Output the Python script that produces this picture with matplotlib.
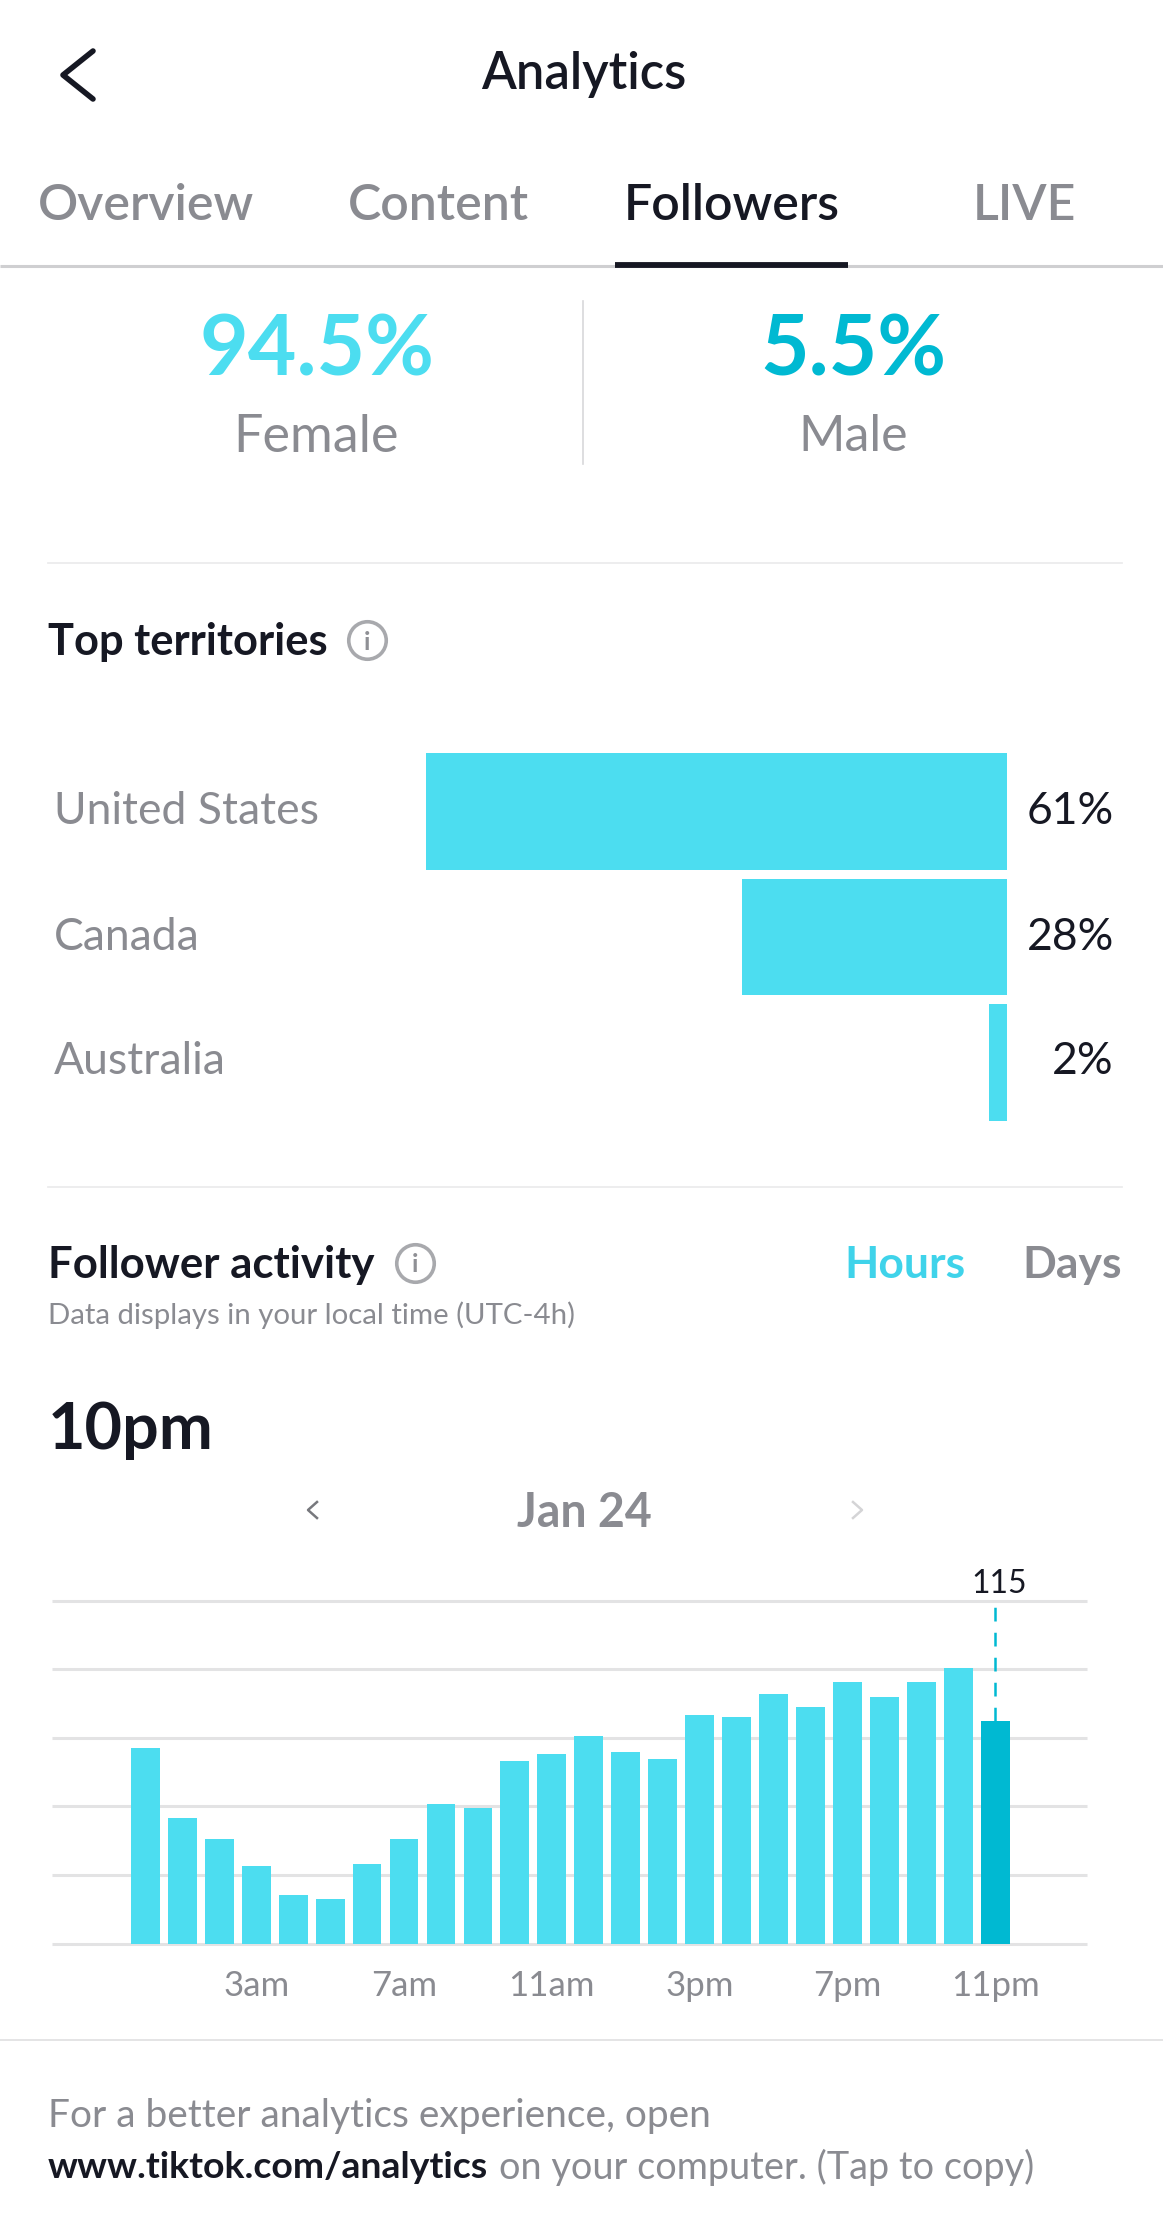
import numpy as np
import matplotlib.pyplot as plt

plt.rcParams['font.family'] = ['Lato', 'DejaVu Sans']

W, H = 1163, 2236

# 数据
gender_labels = ['Female', 'Male']
gender_values = ['94.5%', '5.5%']
territories = ['United States', 'Canada', 'Australia']
territory_pct = [61, 27.8, 1.9]
tabs = ['Overview', 'Content', 'Followers', 'LIVE']
hours = list(range(24))
activity = [101, 65, 54, 40, 25, 23, 41, 54, 72, 70, 94, 98, 107, 99, 95, 118, 117,
            129, 122, 135, 127, 135, 142, 115]
grid_values = [0, 35.4, 70.8, 106.2, 141.6, 177]
hour_ticks = [3, 7, 11, 15, 19, 23]
hour_labels = ['3am', '7am', '11am', '3pm', '7pm', '11pm']

CYAN = '#4cddf0'
TEAL = '#00b9d2'
INK = '#161823'
GREY = '#8a8b91'
LINE = '#e3e3e4'


def px_axes(left, top, right, bottom):
    return fig.add_axes([left / W, 1 - bottom / H, (right - left) / W, (bottom - top) / H])


def info_icon(x, y):
    ui.plot(x, y, 'o', ms=27, mfc='white', mec='#a8a9ad', mew=2.6)
    ui.text(x, y + 2, 'i', color='#8f9095', fontsize=18, fontweight='bold', ha='center', va='center')


fig = plt.figure(figsize=(W / 100, H / 100), dpi=100, facecolor='white')

# 界面层,用像素坐标
ui = fig.add_axes([0, 0, 1, 1])
ui.set_xlim(0, W)
ui.set_ylim(H, 0)
ui.axis('off')

ui.plot([93, 63, 93], [51, 75, 99], color=INK, lw=4, solid_capstyle='round', solid_joinstyle='round')
ui.text(584, 74, 'Analytics', color=INK, fontsize=36.5, fontweight='semibold', ha='center', va='center')

tab_x = [146, 438, 731.5, 1024]
for name, x in zip(tabs, tab_x):
    ui.text(x, 205, name, color=INK if name == 'Followers' else GREY, fontsize=36,
            fontweight='semibold', ha='center', va='center')
ui.plot([0, W], [266, 266], color='#cfcfd1', lw=2.2, solid_capstyle='butt')
ui.plot([615, 848], [265, 265], color=INK, lw=4.2, solid_capstyle='butt')

ui.text(317, 351, gender_values[0], color=CYAN, fontsize=60.5, fontweight='bold', ha='center', va='center')
ui.text(853, 351, gender_values[1], color=TEAL, fontsize=60.5, fontweight='bold', ha='center', va='center')
ui.text(316, 437, gender_labels[0], color=GREY, fontsize=37.5, ha='center', va='center')
ui.text(853, 437, gender_labels[1], color=GREY, fontsize=36, ha='center', va='center')
ui.plot([583, 583], [301, 464], color='#d8d8da', lw=1.2)

ui.plot([48, 1122], [563, 563], color='#ececed', lw=1.3)
ui.text(48, 642, 'Top territories', color=INK, fontsize=31.2, fontweight='bold', va='center')
info_icon(367, 640)

ui.plot([48, 1122], [1187, 1187], color='#ececed', lw=1.3)
ui.text(48, 1265, 'Follower activity', color=INK, fontsize=31.5, fontweight='bold', va='center')
info_icon(415, 1263)
ui.text(966, 1265, 'Hours', color='#3fd3ea', fontsize=32, fontweight='bold', ha='right', va='center')
ui.text(1122, 1265, 'Days', color=GREY, fontsize=32, fontweight='bold', ha='right', va='center')
ui.text(48, 1315, 'Data displays in your local time (UTC-4h)', color=GREY, fontsize=21.2, va='center')
ui.text(48, 1431, '10pm', color=INK, fontsize=46.5, fontweight='bold', va='center')

ui.text(584, 1513, 'Jan 24', color=GREY, fontsize=33.5, fontweight='bold', ha='center', va='center')
ui.plot([317, 308, 317], [1502, 1510, 1518], color='#77787d', lw=1.8)
ui.plot([853, 862, 853], [1502, 1510, 1518], color='#d4d4d6', lw=1.8)

ui.plot([0, W], [2040, 2040], color='#e2e2e3', lw=1.3)
ui.text(48, 2116, 'For a better analytics experience, open', color=GREY, fontsize=28, va='center')
link = ui.text(48, 2167, 'www.tiktok.com/analytics', color=INK, fontsize=26.9, fontweight='bold', va='center')
end = link.get_window_extent(fig.canvas.get_renderer()).x1
ui.text(end + 11, 2167, 'on your computer. (Tap to copy)', color=GREY, fontsize=27.3, va='center')

# 地区条形图
ax_t = px_axes(425.5, 749, 1007, 1125)
ax_t.barh(territories, territory_pct, height=0.93, color=CYAN)
ax_t.set_xlim(61, 0)
ax_t.set_ylim(2.5, -0.5)
ax_t.axis('off')
for i, (name, pct) in enumerate(zip(territories, territory_pct)):
    y_px = 812 + i * 125
    ui.text(54, y_px, name, color=GREY, fontsize=32, va='center')
    ui.text(1114, y_px, f'{round(pct)}%', color=INK, fontsize=32, ha='right', va='center')

# 活跃度柱状图
pitch = 36.96
ax_a = px_axes(52, 1600.5, 1087.5, 1943.5)
ax_a.patch.set_alpha(0)
ax_a.set_xlim((52 - 145.3) / pitch, (1087.5 - 145.3) / pitch)
ax_a.set_ylim(0, 177)
colors = [CYAN] * 23 + [TEAL]
ax_a.hlines(grid_values, *ax_a.get_xlim(), color=LINE, lw=2.2, zorder=1, clip_on=False)
ax_a.bar(hours, activity, width=0.78, color=colors, zorder=2)
ax_a.plot([hours[-1], hours[-1]], [activity[-1], grid_values[-1]], color=TEAL, lw=1.8,
          dashes=(5.5, 4.5), zorder=3)
ax_a.text(hours[-1] + 0.1, grid_values[-1] + 1, str(activity[-1]), color=INK, fontsize=23,
          ha='center', va='bottom')
for side in ax_a.spines.values():
    side.set_visible(False)
ax_a.set_yticks([])
ax_a.set_xticks(hour_ticks)
ax_a.set_xticklabels(hour_labels, color=GREY, fontsize=25)
ax_a.tick_params(axis='x', length=0, pad=19)

fig.savefig('out.png', dpi=100)
